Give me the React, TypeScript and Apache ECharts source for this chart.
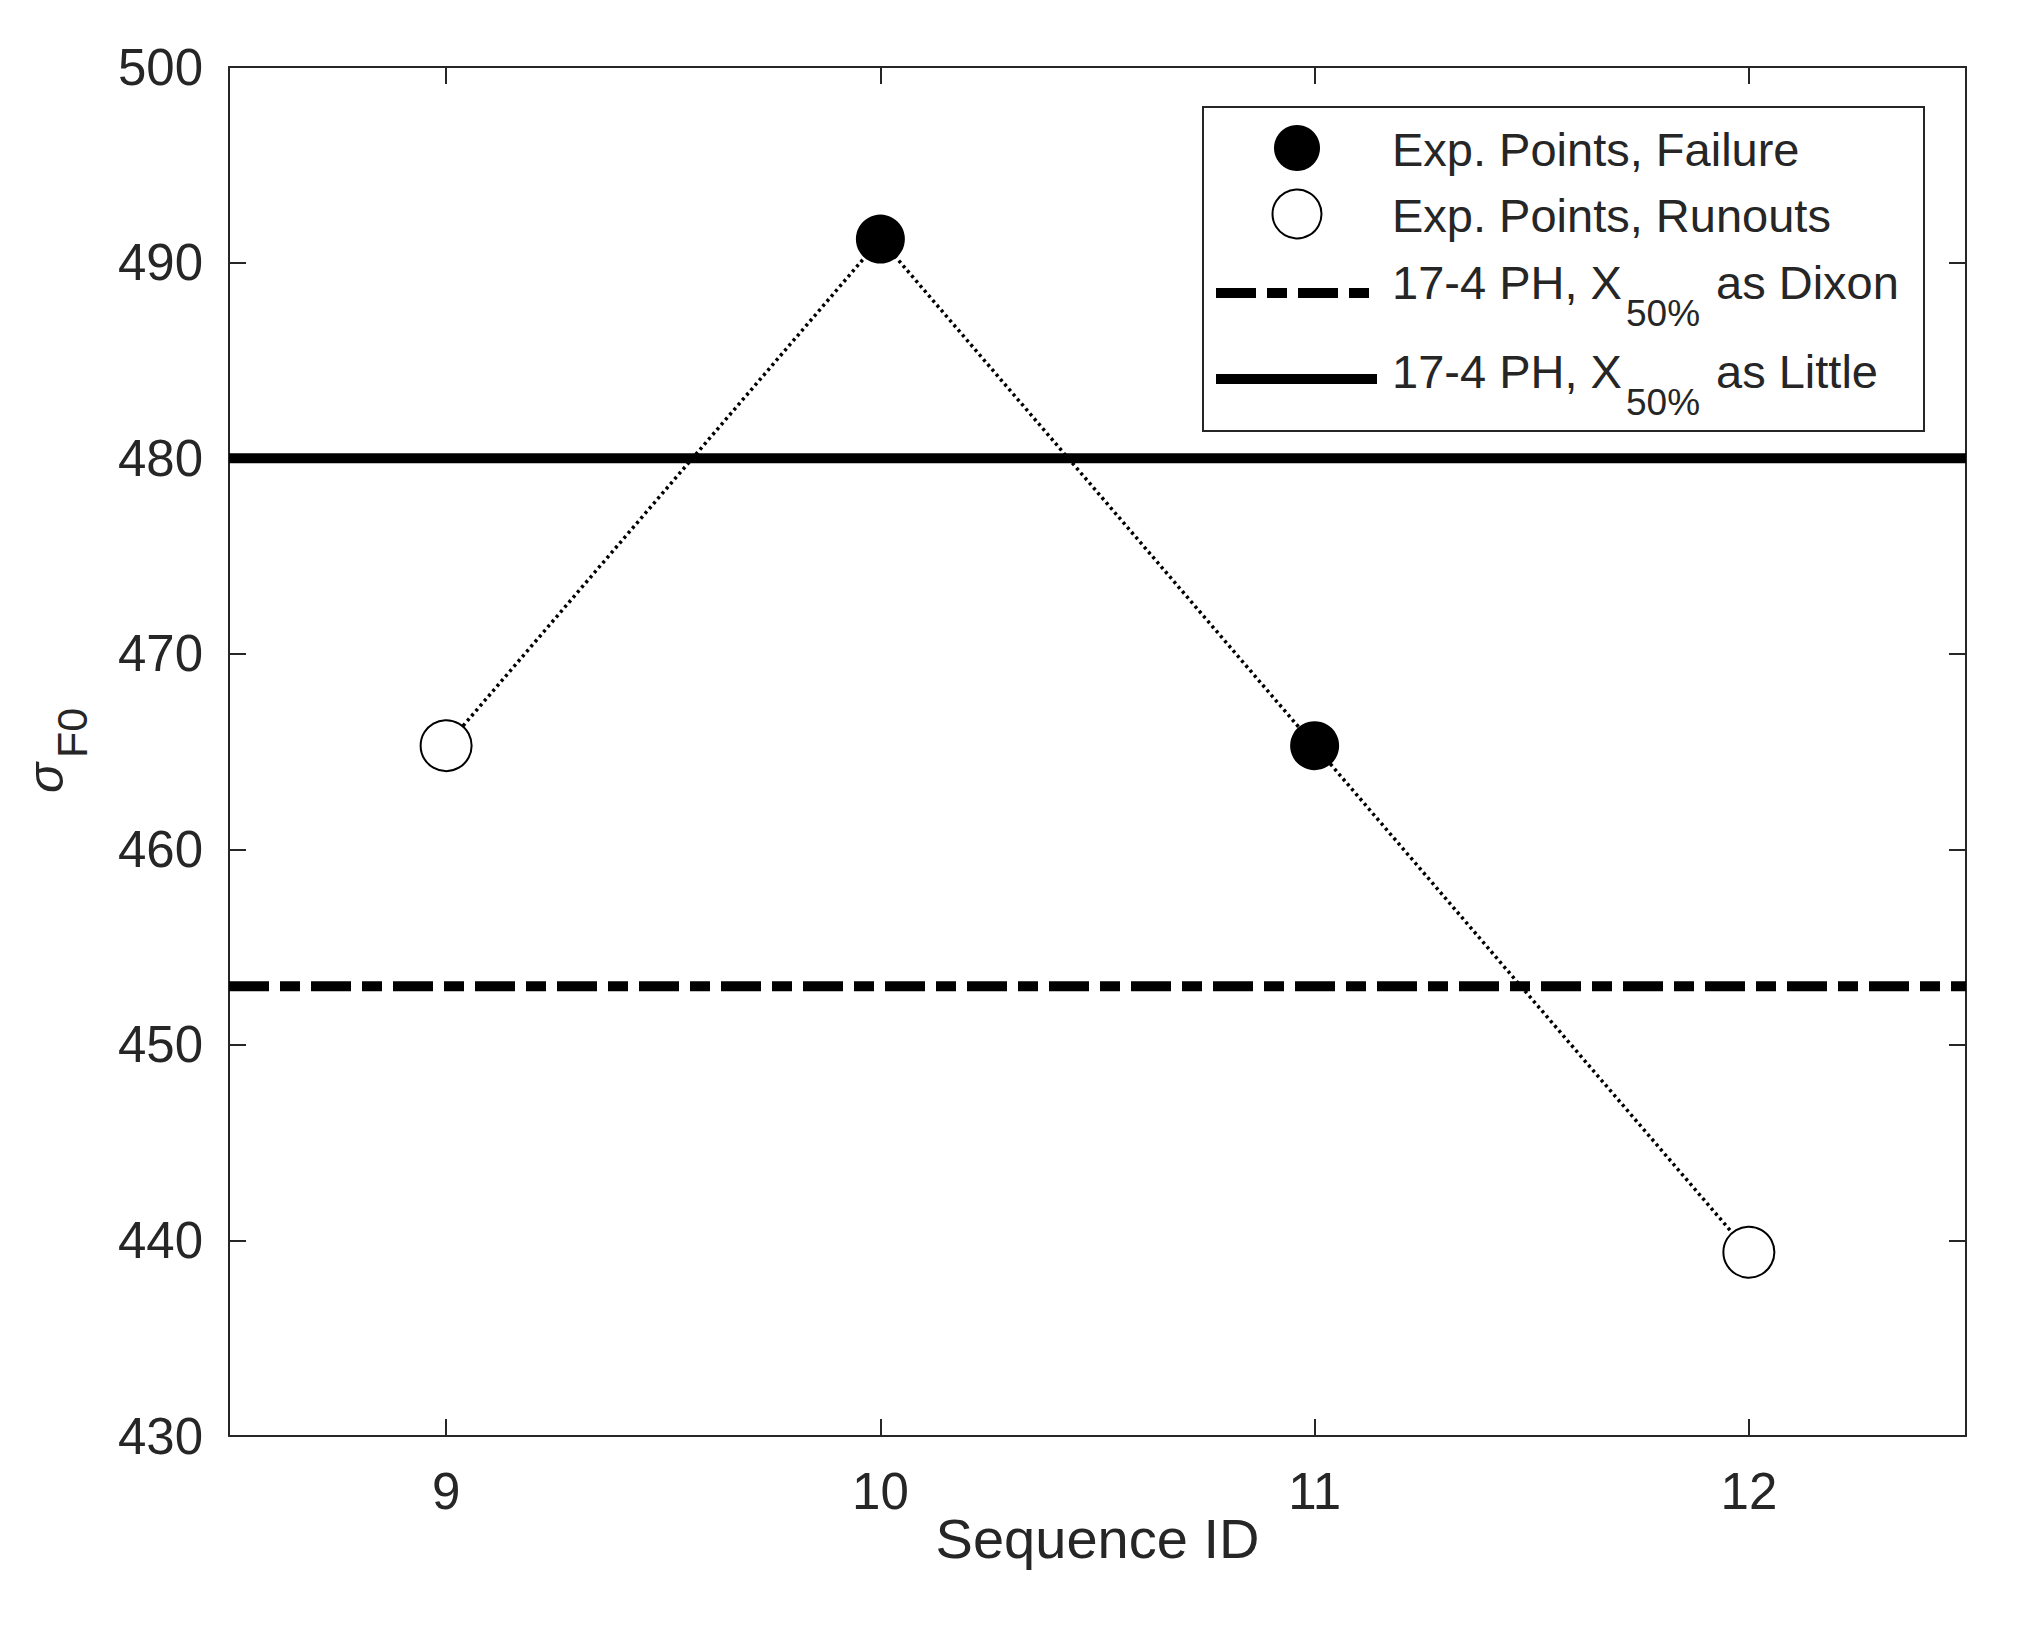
import React, { useEffect, useRef } from "react";
import * as echarts from "echarts";

// ---- data ----
const sequenceIds = [9, 10, 11, 12];
const sigmaF0 = [465.3, 491.2, 465.3, 439.4];
const outcomes = ["runout", "failure", "failure", "runout"];
const xTicks = [9, 10, 11, 12];
const xRange = [8.5, 12.5];
const yRange = [430, 500];
const yStep = 10;
const dixonX50 = 453;
const littleX50 = 480;

const FONT = "'Liberation Sans', Arial, Helvetica, sans-serif";
const INK = "#262626";

export default function App() {
  const ref = useRef<HTMLDivElement>(null);
  useEffect(() => {
    if (!ref.current) return;
    const chart = echarts.init(ref.current, null, { renderer: "svg" });

    const linePts = sequenceIds.map((x, i) => [x, sigmaF0[i]]);
    const failPts = sequenceIds
      .map((x, i) => [x, sigmaF0[i], outcomes[i]])
      .filter((p) => p[2] === "failure")
      .map((p) => [p[0], p[1]]);
    const runPts = sequenceIds
      .map((x, i) => [x, sigmaF0[i], outcomes[i]])
      .filter((p) => p[2] === "runout")
      .map((p) => [p[0], p[1]]);

    const axisLine = { show: true, lineStyle: { color: INK, width: 2 } };
    const tick = { show: true, inside: true, length: 17, lineStyle: { color: INK, width: 2 } };

    const text = (t: string, x: number, y: number, size: number, extra: any = {}) => ({
      type: "text",
      x,
      y,
      z: 110,
      ...extra,
      style: {
        text: t,
        fontSize: size,
        fontFamily: FONT,
        fill: INK,
        textAlign: extra.align || "left",
        align: extra.align || "left",
        textVerticalAlign: "middle",
        verticalAlign: "middle",
        ...(extra.style || {}),
      },
    });

    const legendText = 47;
    const subSize = 37;

    const option: any = {
      animation: false,
      backgroundColor: "#fff",
      grid: { left: 229, top: 67, right: 58, bottom: 206 },
      xAxis: [
        {
          type: "value",
          position: "bottom",
          min: xRange[0],
          max: xRange[1],
          axisLine,
          axisTick: { ...tick, customValues: xTicks },
          axisLabel: {
            customValues: xTicks,
            fontSize: 51,
            fontFamily: FONT,
            color: INK,
            margin: 30,
          },
          splitLine: { show: false },
          name: "Sequence ID",
          nameLocation: "middle",
          nameGap: 74,
          nameMoveOverlap: false,
          nameTextStyle: { fontSize: 56, fontFamily: FONT, color: INK },
        },
        {
          type: "value",
          position: "top",
          min: xRange[0],
          max: xRange[1],
          axisLine,
          axisTick: { ...tick, customValues: xTicks },
          axisLabel: { show: false },
          splitLine: { show: false },
        },
      ],
      yAxis: [
        {
          type: "value",
          position: "left",
          min: yRange[0],
          max: yRange[1],
          interval: yStep,
          axisLine,
          axisTick: tick,
          axisLabel: { fontSize: 51, fontFamily: FONT, color: INK, margin: 26 },
          splitLine: { show: false },
        },
        {
          type: "value",
          position: "right",
          min: yRange[0],
          max: yRange[1],
          interval: yStep,
          axisLine,
          axisTick: tick,
          axisLabel: { show: false },
          splitLine: { show: false },
        },
      ],
      series: [
        {
          name: "17-4 PH, X50% as Dixon",
          type: "line",
          data: [
            [xRange[0], dixonX50],
            [xRange[1], dixonX50],
          ],
          symbol: "none",
          lineStyle: { color: "#000", width: 10, type: [40, 11, 20, 11], cap: "butt" },
          z: 2,
        },
        {
          name: "17-4 PH, X50% as Little",
          type: "line",
          data: [
            [xRange[0], littleX50],
            [xRange[1], littleX50],
          ],
          symbol: "none",
          lineStyle: { color: "#000", width: 10, type: "solid" },
          z: 2,
        },
        {
          name: "sequence",
          type: "line",
          data: linePts,
          symbol: "none",
          lineStyle: { color: "#000", width: 3.5, type: [3, 3.5] },
          z: 3,
        },
        {
          name: "Exp. Points, Failure",
          type: "scatter",
          data: failPts,
          symbol: "circle",
          symbolSize: 49,
          itemStyle: { color: "#000", opacity: 1 },
          z: 4,
        },
        {
          name: "Exp. Points, Runouts",
          type: "scatter",
          data: runPts,
          symbol: "circle",
          symbolSize: 51,
          itemStyle: { color: "#fff", borderColor: "#000", borderWidth: 2, opacity: 1 },
          z: 4,
        },
      ],
      graphic: [
        // y-axis title sigma_F0
        text("σ", 46, 778, 50, { rotation: Math.PI / 2, align: "center", style: { fontStyle: "italic" } }),
        text("F0", 72, 733, 43, { rotation: Math.PI / 2, align: "center" }),
        // legend box
        {
          type: "rect",
          z: 100,
          shape: { x: 1203, y: 107, width: 721, height: 324 },
          style: { fill: "#fff", stroke: INK, lineWidth: 2 },
        },
        {
          type: "circle",
          z: 110,
          shape: { cx: 1297, cy: 148, r: 23 },
          style: { fill: "#000" },
        },
        {
          type: "circle",
          z: 110,
          shape: { cx: 1297, cy: 214, r: 24.5 },
          style: { fill: "#fff", stroke: "#000", lineWidth: 2 },
        },
        {
          type: "line",
          z: 110,
          shape: { x1: 1216, y1: 293, x2: 1376, y2: 293 },
          style: { stroke: "#000", lineWidth: 10, lineDash: [40, 11, 20, 11] },
        },
        {
          type: "line",
          z: 110,
          shape: { x1: 1216, y1: 379, x2: 1377, y2: 379 },
          style: { stroke: "#000", lineWidth: 10 },
        },
        text("Exp. Points, Failure", 1392, 149, legendText),
        text("Exp. Points, Runouts", 1392, 215, legendText),
        text("17-4 PH, X", 1392, 282, legendText),
        text("50%", 1626, 313, subSize),
        text("as Dixon", 1716, 282, legendText),
        text("17-4 PH, X", 1392, 371, legendText),
        text("50%", 1626, 402, subSize),
        text("as Little", 1716, 371, legendText),
      ],
    };

    chart.setOption(option);
    return () => chart.dispose();
  }, []);

  return (
    <div
      ref={ref}
      style={{ position: "fixed", left: 0, top: 0, width: 2024, height: 1642, background: "#fff" }}
    />
  );
}
